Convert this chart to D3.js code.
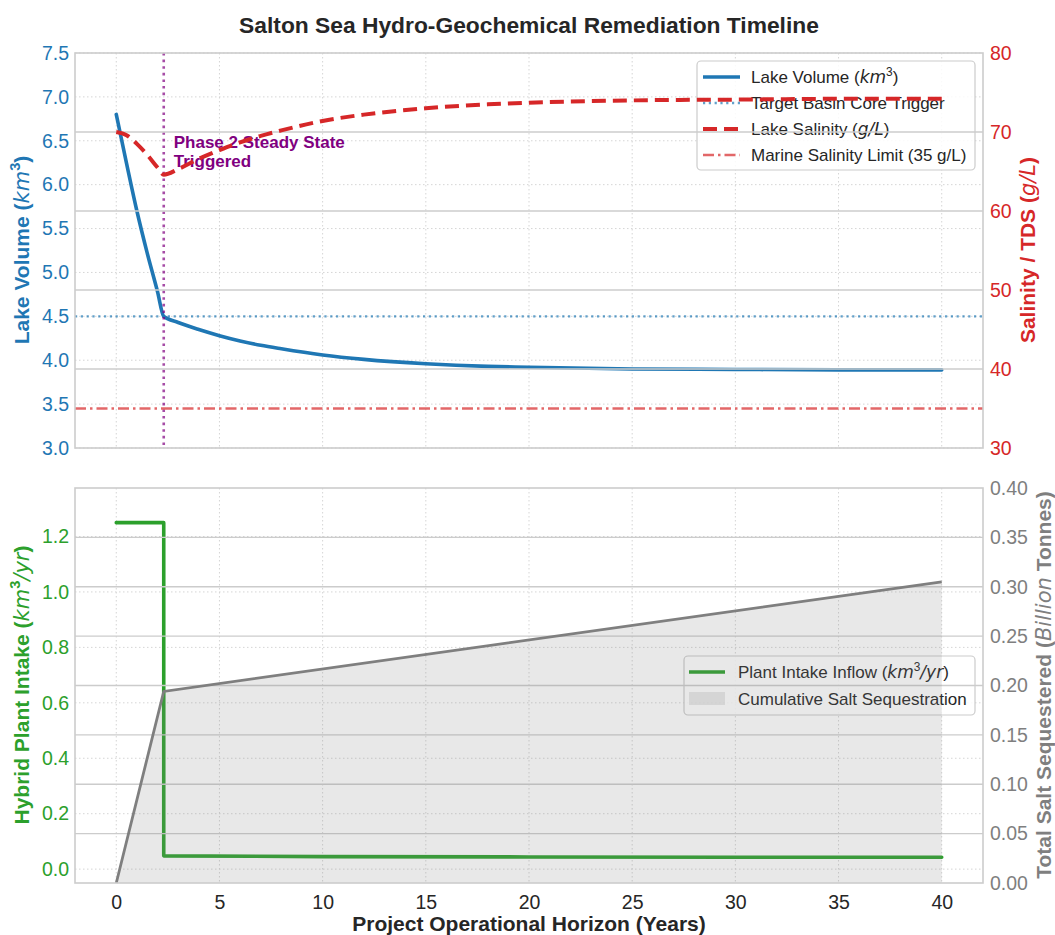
<!DOCTYPE html>
<html>
<head>
<meta charset="utf-8">
<script src="https://cdn.jsdelivr.net/npm/d3@7"></script>
<style>
  body { margin: 0; background: #fff; }
  text { font-family: "Liberation Sans", Arial, sans-serif; }
</style>
</head>
<body>
<div id="viz"></div>
<script>
// ---- data ----
var volYears   = [0, 0.5, 1, 1.5, 2, 2.3, 3, 4, 5, 6, 7, 8, 10, 12, 15, 18, 20, 25, 30, 35, 40];
var lakeVolume = [6.8, 6.24, 5.70, 5.22, 4.78, 4.5, 4.43, 4.35, 4.28, 4.22, 4.17, 4.13, 4.06, 4.01, 3.96, 3.93, 3.92, 3.90, 3.895, 3.89, 3.89];
var salYears     = [0, 0.5, 1, 1.5, 2, 2.3, 3, 4, 5, 6, 7, 8, 10, 12, 15, 18, 20, 25, 30, 35, 40];
var lakeSalinity = [70, 69.6, 68.5, 67.1, 65.5, 64.6, 65.3, 66.6, 67.7, 68.7, 69.5, 70.2, 71.4, 72.2, 73.0, 73.5, 73.7, 74.0, 74.1, 74.2, 74.2];
var targetVolume = 4.5;
var marineSalinity = 35;
var triggerYear = 2.3;

var intakeYears = [0, 2.3, 2.3, 10, 20, 30, 40];
var plantIntake = [1.25, 1.25, 0.048, 0.045, 0.044, 0.043, 0.043];
var saltYears = [0, 2.3, 40];
var saltCumulative = [0, 0.194, 0.305];

var xTicks = [0, 5, 10, 15, 20, 25, 30, 35, 40];
var volTicks = [3.0, 3.5, 4.0, 4.5, 5.0, 5.5, 6.0, 6.5, 7.0, 7.5];
var salTicks = [30, 40, 50, 60, 70, 80];
var intakeTicks = [0.0, 0.2, 0.4, 0.6, 0.8, 1.0, 1.2];
var saltTicks = [0.00, 0.05, 0.10, 0.15, 0.20, 0.25, 0.30, 0.35, 0.40];

// ---- layout ----
var width = 1055, height = 935;
var left = 75, right = 983;
var top1 = 53, bot1 = 448, top2 = 488, bot2 = 883;
var TICK = 19.5, LEG = 17, LAB = 21;

var BLUE = "#1f77b4", RED = "#d62728", GREEN = "#2ca02c", GRAY = "#7f7f7f", PURPLE = "#800080";

var svg = d3.select("#viz").append("svg")
  .attr("width", width).attr("height", height);

var x = d3.scaleLinear().domain([-2, 42]).range([left, right]);
var yVol = d3.scaleLinear().domain([3, 7.5]).range([bot1, top1]);
var ySal = d3.scaleLinear().domain([30, 80]).range([bot1, top1]);
var yIn = d3.scaleLinear().domain([-0.05, 1.375]).range([bot2, top2]);
var ySalt = d3.scaleLinear().domain([0, 0.4]).range([bot2, top2]);

// text with italic / superscript pieces
function rich(sel, parts, size) {
  var shift = 0;
  parts.forEach(function(p) {
    var ts = sel.append("tspan").text(p.t);
    var dy = 0;
    if (p.sup) { dy = -size * 0.42; ts.attr("font-size", size * 0.7); }
    dy -= shift;
    shift = p.sup ? -size * 0.42 : 0;
    if (dy) ts.attr("dy", dy);
    if (p.i) ts.attr("font-style", "italic").attr("font-weight", "normal")
      .style("font-family", "'DejaVu Sans', sans-serif");
  });
}

function dottedGridX(g, y0, y1) {
  g.selectAll(null).data(xTicks).enter().append("line")
    .attr("x1", d => x(d)).attr("x2", d => x(d))
    .attr("y1", y0).attr("y2", y1)
    .attr("stroke", "#d5d5d5").attr("stroke-width", 1)
    .attr("stroke-dasharray", "1.5,2.5");
}
function dottedGridY(g, ticks, scale) {
  g.selectAll(null).data(ticks).enter().append("line")
    .attr("x1", left).attr("x2", right)
    .attr("y1", d => scale(d)).attr("y2", d => scale(d))
    .attr("stroke", "#d5d5d5").attr("stroke-width", 1)
    .attr("stroke-dasharray", "1.5,2.5");
}
function solidGridY(g, ticks, scale) {
  g.selectAll(null).data(ticks).enter().append("line")
    .attr("x1", left).attr("x2", right)
    .attr("y1", d => scale(d)).attr("y2", d => scale(d))
    .attr("stroke", "#cccccc").attr("stroke-width", 1.3);
}
function styleAxis(g, color) {
  g.select(".domain").remove();
  g.selectAll("text").attr("fill", color).attr("font-size", TICK)
    .style("font-family", "'Liberation Sans', Arial, sans-serif");
}

// ================= TOP PANEL =================
var topG = svg.append("g");
topG.append("rect").attr("x", left).attr("y", top1)
  .attr("width", right - left).attr("height", bot1 - top1).attr("fill", "#fff");

// ax1 (volume)
var ax1 = topG.append("g");
dottedGridX(ax1, top1, bot1);
dottedGridY(ax1, volTicks, yVol);

ax1.append("line")
  .attr("x1", left).attr("x2", right)
  .attr("y1", yVol(targetVolume)).attr("y2", yVol(targetVolume))
  .attr("stroke", BLUE).attr("stroke-opacity", 0.7).attr("stroke-width", 2.4)
  .attr("stroke-dasharray", "2.2,3.6");

var volData = volYears.map((t, i) => ({t: t, v: lakeVolume[i]}));
ax1.append("path").datum(volData)
  .attr("fill", "none").attr("stroke", BLUE).attr("stroke-width", 3.6)
  .attr("stroke-linejoin", "round").attr("stroke-linecap", "round")
  .attr("d", d3.line().x(d => x(d.t)).y(d => yVol(d.v)).curve(d3.curveMonotoneX));

ax1.append("line")
  .attr("x1", x(triggerYear)).attr("x2", x(triggerYear))
  .attr("y1", top1).attr("y2", bot1)
  .attr("stroke", PURPLE).attr("stroke-opacity", 0.7).attr("stroke-width", 2.6)
  .attr("stroke-dasharray", "2.6,4");

var ann = ax1.append("text").attr("x", x(triggerYear) + 10).attr("y", 148)
  .attr("fill", PURPLE).attr("font-size", 17).attr("font-weight", "bold");
ann.append("tspan").attr("x", x(triggerYear) + 10).text("Phase 2 Steady State");
ann.append("tspan").attr("x", x(triggerYear) + 10).attr("dy", 19).text("Triggered");

ax1.append("g").attr("transform", "translate(" + (left - 6) + ",0)")
  .call(d3.axisLeft(yVol).tickValues(volTicks).tickSize(0).tickPadding(0).tickFormat(d3.format(".1f")))
  .call(g => styleAxis(g, BLUE));

// legend (ax1), drawn under ax2 content
var leg1 = topG.append("g");
leg1.append("rect").attr("x", 697).attr("y", 61).attr("width", 278).attr("height", 109)
  .attr("rx", 4).attr("fill", "#fff").attr("fill-opacity", 0.85)
  .attr("stroke", "#cccccc").attr("stroke-width", 1.2);
var leg1Items = [
  {parts: [{t: "Lake Volume ("}, {t: "km", i: true}, {t: "3", sup: true}, {t: ")"}], stroke: BLUE, w: 3.6, dash: null, op: 1},
  {parts: [{t: "Target Basin Core Trigger"}], stroke: BLUE, w: 2.4, dash: "2.2,3.6", op: 0.7},
  {parts: [{t: "Lake Salinity ("}, {t: "g/L", i: true}, {t: ")"}], stroke: RED, w: 4, dash: "14,7", op: 1},
  {parts: [{t: "Marine Salinity Limit (35 g/L)"}], stroke: RED, w: 2.6, dash: "11,4,2.5,4", op: 0.7}
];
leg1Items.forEach(function(it, i) {
  var cy = 77 + i * 26;
  leg1.append("line").attr("x1", 703).attr("x2", 740).attr("y1", cy).attr("y2", cy)
    .attr("stroke", it.stroke).attr("stroke-width", it.w).attr("stroke-opacity", it.op)
    .attr("stroke-dasharray", it.dash);
  var t = leg1.append("text").attr("x", 751).attr("y", cy + 6)
    .attr("font-size", LEG).attr("fill", "#262626");
  rich(t, it.parts, LEG);
});

// ax2 (salinity)
var ax2 = topG.append("g");
solidGridY(ax2, salTicks.slice(1, -1), ySal);

var salData = salYears.map((t, i) => ({t: t, v: lakeSalinity[i]}));
ax2.append("path").datum(salData)
  .attr("fill", "none").attr("stroke", RED).attr("stroke-width", 4)
  .attr("stroke-dasharray", "14,7")
  .attr("d", d3.line().x(d => x(d.t)).y(d => ySal(d.v)).curve(d3.curveMonotoneX));

ax2.append("line")
  .attr("x1", left).attr("x2", right)
  .attr("y1", ySal(marineSalinity)).attr("y2", ySal(marineSalinity))
  .attr("stroke", RED).attr("stroke-opacity", 0.7).attr("stroke-width", 2.6)
  .attr("stroke-dasharray", "11,4,2.5,4");

ax2.append("g").attr("transform", "translate(" + (right + 7) + ",0)")
  .call(d3.axisRight(ySal).tickValues(salTicks).tickSize(0).tickPadding(0))
  .call(g => styleAxis(g, RED));

topG.append("rect").attr("x", left).attr("y", top1)
  .attr("width", right - left).attr("height", bot1 - top1)
  .attr("fill", "none").attr("stroke", "#cccccc").attr("stroke-width", 1.6);

// ================= BOTTOM PANEL =================
var botG = svg.append("g");
var bx1 = botG.append("g");
dottedGridX(bx1, top2, bot2);
dottedGridY(bx1, intakeTicks, yIn);

var inData = intakeYears.map((t, i) => ({t: t, v: plantIntake[i]}));
bx1.append("path").datum(inData)
  .attr("fill", "none").attr("stroke", GREEN).attr("stroke-width", 3.6)
  .attr("stroke-linejoin", "round").attr("stroke-linecap", "round")
  .attr("d", d3.line().x(d => x(d.t)).y(d => yIn(d.v)));

bx1.append("g").attr("transform", "translate(" + (left - 6) + ",0)")
  .call(d3.axisLeft(yIn).tickValues(intakeTicks).tickSize(0).tickPadding(0).tickFormat(d3.format(".1f")))
  .call(g => styleAxis(g, GREEN));

bx1.append("g").attr("transform", "translate(0," + (bot2 + 7) + ")")
  .call(d3.axisBottom(x).tickValues(xTicks).tickSize(0).tickPadding(0))
  .call(g => styleAxis(g, "#262626"))
  .call(g => g.selectAll("text").attr("dy", "0.95em"));

// legend (bx1)
var leg2 = botG.append("g");
leg2.append("rect").attr("x", 684).attr("y", 656).attr("width", 291).attr("height", 59)
  .attr("rx", 4).attr("fill", "#fff").attr("fill-opacity", 0.85)
  .attr("stroke", "#cccccc").attr("stroke-width", 1.2);
leg2.append("line").attr("x1", 689).attr("x2", 725).attr("y1", 672).attr("y2", 672)
  .attr("stroke", GREEN).attr("stroke-width", 3.6);
rich(leg2.append("text").attr("x", 738).attr("y", 678).attr("font-size", LEG).attr("fill", "#262626"),
  [{t: "Plant Intake Inflow ("}, {t: "km", i: true}, {t: "3", sup: true}, {t: "/yr", i: true}, {t: ")"}], LEG);
leg2.append("rect").attr("x", 689).attr("y", 692).attr("width", 36).attr("height", 13)
  .attr("fill", GRAY).attr("fill-opacity", 0.18);
leg2.append("text").attr("x", 738).attr("y", 705).attr("font-size", LEG).attr("fill", "#262626")
  .text("Cumulative Salt Sequestration");

// bx2 (salt)
var bx2 = botG.append("g");
solidGridY(bx2, saltTicks.slice(1, -1), ySalt);

var saltData = saltYears.map((t, i) => ({t: t, v: saltCumulative[i]}));
bx2.append("path").datum(saltData)
  .attr("fill", GRAY).attr("fill-opacity", 0.18)
  .attr("d", d3.area().x(d => x(d.t)).y0(ySalt(0)).y1(d => ySalt(d.v)));
bx2.append("path").datum(saltData)
  .attr("fill", "none").attr("stroke", GRAY).attr("stroke-width", 2.8)
  .attr("d", d3.line().x(d => x(d.t)).y(d => ySalt(d.v)));

bx2.append("g").attr("transform", "translate(" + (right + 7) + ",0)")
  .call(d3.axisRight(ySalt).tickValues(saltTicks).tickSize(0).tickPadding(0).tickFormat(d3.format(".2f")))
  .call(g => styleAxis(g, GRAY));

botG.append("rect").attr("x", left).attr("y", top2)
  .attr("width", right - left).attr("height", bot2 - top2)
  .attr("fill", "none").attr("stroke", "#cccccc").attr("stroke-width", 1.6);

// ================= TITLES / LABELS =================
svg.append("text").attr("x", 529).attr("y", 33).attr("text-anchor", "middle")
  .attr("font-size", 22.8).attr("font-weight", "bold").attr("fill", "#262626")
  .text("Salton Sea Hydro-Geochemical Remediation Timeline");

svg.append("text").attr("x", 529).attr("y", 931).attr("text-anchor", "middle")
  .attr("font-size", LAB).attr("font-weight", "bold").attr("fill", "#262626")
  .text("Project Operational Horizon (Years)");

function yLabel(cx, cy, color, parts) {
  var t = svg.append("text").attr("transform", "translate(" + cx + "," + cy + ") rotate(-90)")
    .attr("text-anchor", "middle").attr("font-size", LAB).attr("font-weight", "bold")
    .attr("fill", color);
  rich(t, parts, LAB);
}
yLabel(29, 250, BLUE, [{t: "Lake Volume ("}, {t: "km", i: true}, {t: "3", sup: true}, {t: ")"}]);
yLabel(1035, 250, RED, [{t: "Salinity / TDS ("}, {t: "g/L", i: true}, {t: ")"}]);
yLabel(29, 685, GREEN, [{t: "Hybrid Plant Intake ("}, {t: "km", i: true}, {t: "3", sup: true}, {t: "/yr", i: true}, {t: ")"}]);
yLabel(1051, 685, GRAY, [{t: "Total Salt Sequestered ("}, {t: "Billion", i: true}, {t: " Tonnes)"}]);
</script>
</body>
</html>
